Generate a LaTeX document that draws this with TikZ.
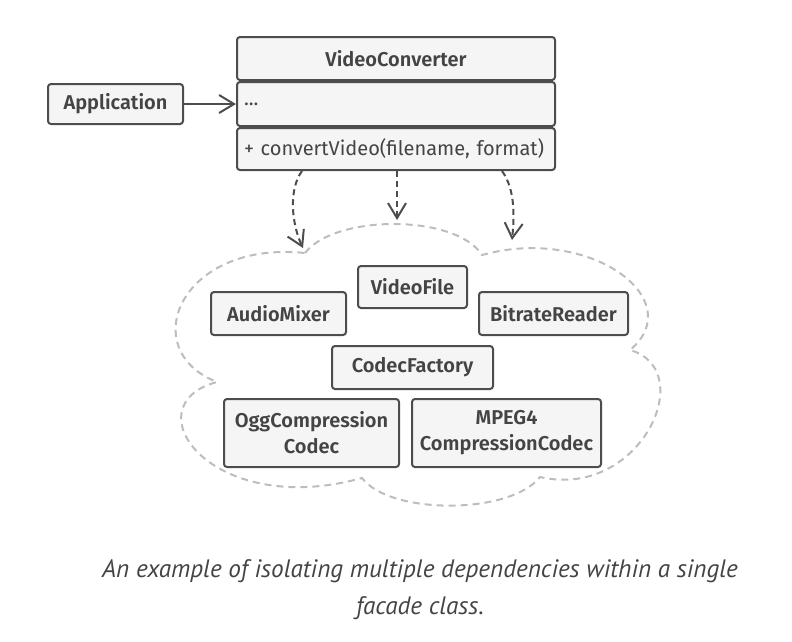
\documentclass[tikz,border=0pt]{standalone}
\usepackage{fontspec}
\setmainfont{Fira Sans}[BoldFont={Fira Sans SemiBold}]
\newfontfamily\captionfont{PT Sans}
\usetikzlibrary{arrows.meta, positioning}
\definecolor{lineGray}{HTML}{4D4D4D}
\definecolor{fillGray}{HTML}{F5F5F5}
\definecolor{cloudGray}{HTML}{BDBDBD}
\definecolor{textGray}{HTML}{444444}
\tikzset{
    % Boxes
    cls/.style    = {draw=lineGray, line width=2pt, fill=fillGray, rounded corners=3pt,
                     text=textGray, font=\fontsize{20}{26}\selectfont\bfseries,
                     inner sep=0pt, align=center},
    member/.style = {cls, font=\fontsize{20}{26}\selectfont, text width=304pt, align=left,
                     minimum width=318pt, inner xsep=7pt},
    % Edges and annotations
    arrow/.style      = {draw=lineGray, line width=2pt, -{Straight Barb[length=15pt, width=18pt]}},
    dependency/.style = {arrow, dash pattern=on 6pt off 4pt},
    cloud/.style      = {draw=cloudGray, line width=2pt, dash pattern=on 7pt off 5pt},
    caption/.style    = {text=textGray, align=center, font=\captionfont\itshape\fontsize{25.2}{37}\selectfont}
}

\begin{document}
\begin{tikzpicture}[x=1pt, y=-1pt]
    \useasboundingbox (0,0) rectangle (792,641);

    % Facade
    \node (title) [cls, minimum width=318pt, minimum height=43pt] at (396,58.5) {VideoConverter};
    \node (attrs) [member, minimum height=44pt, below=0pt of title] {...};
    \node (ops) [member, minimum height=42pt, below=0pt of attrs] {+ convertVideo(filename, format)};
    \node (app) [cls, minimum width=135pt, minimum height=40pt, left=52pt of attrs] {Application};

    \draw [arrow] (app) -- (attrs);

    % Subsystem
    \draw [cloud] (305,253) .. controls (335,214) and (456,214) .. (482,255)
        .. controls (590,225) and (690,300) .. (630,350)
        .. controls (700,370) and (640,500) .. (540,477)
        .. controls (510,515) and (390,515) .. (362,478)
        .. controls (210,520) and (130,405) .. (217,382)
        .. controls (135,350) and (180,240) .. (305,253);

    \node (videofile) [cls, minimum width=109pt, minimum height=42pt] at (412.5,287) {VideoFile};
    \node (audiomixer) [cls, minimum width=135pt, minimum height=43pt] at (278.5,313.5) {AudioMixer};
    \node (bitrate) [cls, minimum width=149pt, minimum height=43pt] at (553.5,313.5) {BitrateReader};
    \node (factory) [cls, minimum width=161pt, minimum height=43pt] at (412.5,367.5) {CodecFactory};
    \node (ogg) [cls, minimum width=175pt, minimum height=68pt] at (311.5,433) {OggCompression\\Codec};
    \node (mpeg) [cls, minimum width=189pt, minimum height=68pt] at (506.5,433) {MPEG4\\CompressionCodec};

    \coordinate (tipL) at (303,248);
    \coordinate (tipM) at (397,220);
    \coordinate (tipR) at (512,240);

    \draw [dependency] ([xshift=-94pt]ops.south) .. controls (288,190) and (292,225) .. (tipL);
    \draw [dependency] ([xshift=1pt]ops.south) -- (tipM);
    \draw [dependency] ([xshift=106pt]ops.south) .. controls (516,190) and (514,220) .. (tipR);

    \node (caption) [caption] at (420,590) {An example of isolating multiple dependencies within a single\\facade class.};
\end{tikzpicture}
\end{document}
